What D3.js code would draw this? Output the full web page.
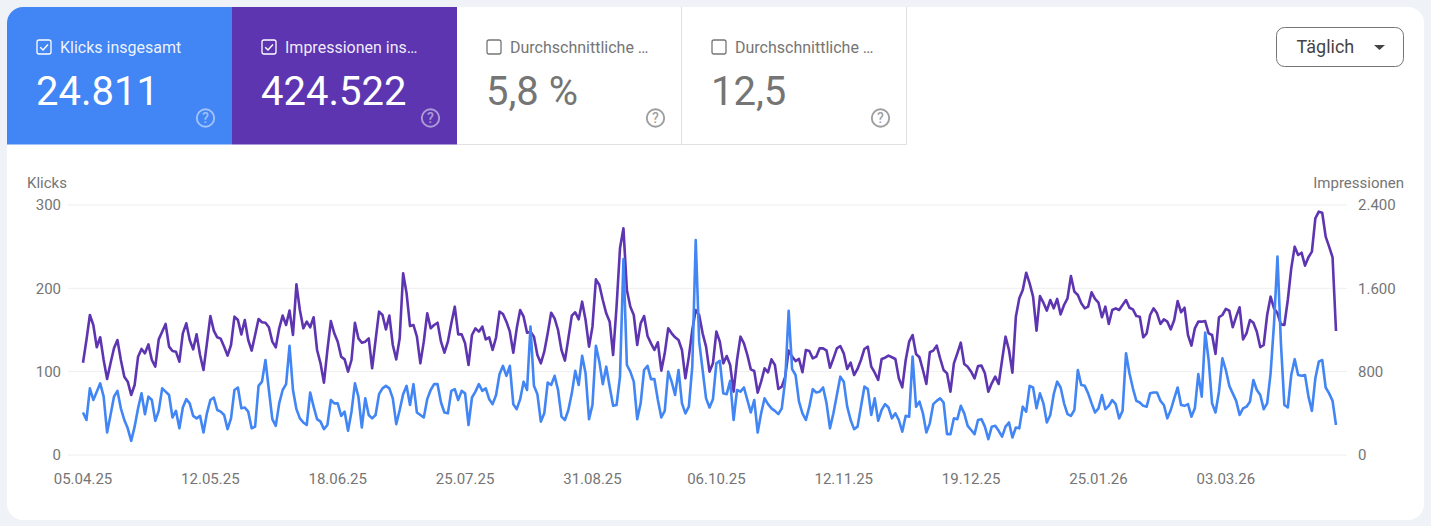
<!DOCTYPE html>
<html>
<head>
  <title>Leistung</title>
  <script src="https://cdn.jsdelivr.net/npm/d3@7/dist/d3.min.js"></script>
  <style type="text/css">
    html, body { margin: 0; padding: 0; background: #eff3f8; overflow: hidden; }
    svg { display: block; font-family: Roboto, sans-serif; }
    .domain { display: none; }
    .grid line { stroke: #eeeeee; stroke-width: 1; }
    .tick text { fill: #757575; font-size: 15px; font-family: Roboto, sans-serif; }
    .line { fill: none; stroke-width: 2.6; stroke-linejoin: round; }
  </style>
</head>
<body>
  <script type="text/javascript">
    var clicks = [
      51,42,80,66,76,86,70, 27,48,70,77,56,42,32, 17,34,56,74,49,70,66, 41,53,80,76,72,45,53,
      32,57,67,62,47,44,47, 27,50,66,69,54,52,48, 31,44,78,81,56,57,52, 32,34,83,88,114,78,43,
      35,62,78,85,131,78,55, 44,39,36,75,58,43,40, 31,36,66,62,62,47,52, 29,52,86,70,33,68,48,
      44,48,73,80,83,80, 68,37,54,73,83,60,85, 51,48,45,67,78,85,85, 63,51,50,77,79,66,77,
      74,36,69,76,85,77,80, 67,61,72,97,107,95,107, 61,55,67,88,78,154,83, 73,40,50,87,84,95,78,
      46,42,54,74,101,84,119, 98,43,60,131,112,85,106, 82,59,60,94,235,108,100, 88,43,62,102,107,91,91,
      66,45,53,100,
      88,72,102,62,50,58, 106,258,136,102,68,57,67, 110,113,74,73,89,42,78, 76,81,66,51,66,27,50,
      68,61,56,53,49,56,90, 173,103,96,64,50,42,58, 79,75,76,81,62,32,50, 72,94,88,58,42,31,34,
      58,82,79,48,68,41,54, 61,57,44,50,42,28,47, 46,118,58,64,50,27,38, 61,65,68,63,25,25,44,
      43,59,50,35,30,25,42, 43,34,19,34,35,29,22, 34,39,21,
      33,32,58,52,83,81,56, 74,62,39,48,73,88,81, 62,49,47,54,102,84,83, 74,62,51,56,72,55,59,
      66,61,44,53,122,98,80, 65,63,59,58,74,75,75, 65,60,44,54,68,81,60, 59,61,46,56,97,70,147,
      114,62,51,76,116,102,83, 74,65,48,56,58,64,90, 78,72,55,62,98,158,238, 134,60,57,96,115,96,95,
      96,70,53,92,112,114,81, 74,65,36
    ];

    var impressions = [
      886,1104,1344,1248,1034,1130,912, 730,880,1024,1104,912,752,704, 576,672,944,1018,976,1062,912,
      848,1110,1184,1258,1040,998,992, 896,1168,1264,1104,1014,1158,960, 816,1072,1334,1194,1130,1117,1040,
      954,1056,1328,1296,1158,1296,1104, 1002,1152,1306,1274,1270,1226,1088, 1034,1216,1338,1248,1386,1152,1638,
      1392,1216,1280,1226,1322,1008,880, 694,1008,1286,1168,1088,944,918, 800,912,1270,1120,1078,1088,1120,
      832,1104,1376,1344,1206,1338, 1056,918,1120,1744,1552,1238,1248, 1136,880,1088,1360,1216,1248,1270,
      1088,982,1088,1264,1424,1158,1158, 1072,864,1152,1216,1184,1232,1110, 1130,1008,1130,1376,1354,1280,1184,
      982,1216,1392,1328,1174,1184,1136, 960,880,992,1168,1366,1312,1200, 1008,906,1120,1338,1370,1302,1472,
      1296,1040,1232,1686,1632,1488,1360, 1280,960,1424,1984,2176,1584,1424, 1344,1056,1264,1334,1142,1072,1008,
      1082,810,976,1216,
      1168,1130,1104,1008,736,944, 1200,1392,1344,1168,1040,800,880, 1184,1088,880,950,864,608,912,
      1136,1072,960,822,806,598,704, 832,794,918,864,634,656,752, 1002,944,902,922,794,1008,998,
      928,944,1024,1024,1002,838,928, 1024,1046,976,826,886,768,826, 912,1018,1040,848,790,720,922,
      934,954,938,922,736,650,912, 1088,1152,970,938,816,682,986, 1002,1050,928,816,784,608,880,
      976,1078,874,848,800,736,854, 858,784,608,688,752,682,912, 1136,1008,790,
      1328,1504,1584,1750,1648,1520,1194, 1526,1462,1386,1488,1408,1498,1350, 1440,1504,1718,1568,1536,1456,1408,
      1424,1562,1498,1462,1322,1424,1258, 1392,1408,1392,1440,1488,1414,1398, 1334,1328,1130,1168,1344,1408,1360,
      1258,1302,1280,1206,1296,1478,1370, 1414,1152,1050,1216,1280,1280,1286, 1168,1152,970,1322,1344,1402,1386,
      1226,1328,1418,1110,1168,1296,1270, 1184,1034,1056,1344,1520,1408,1360, 1254,1248,1488,1792,2000,1920,1942,
      1818,1898,1952,2272,2336,2326,2096, 2000,1898,1190
    ];

    var startDate = "05.04.25";
    var dateTicks = ["05.04.25","12.05.25","18.06.25","25.07.25","31.08.25","06.10.25","12.11.25","19.12.25","25.01.26","03.03.26"];
    var clickTicks = [0,100,200,300];
    var impressionTicks = [0,800,1600,2400];

    var tileLabels = ["Klicks insgesamt","Impressionen ins\u2026","Durchschnittliche \u2026","Durchschnittliche \u2026"];
    var tileValues = ["24.811","424.522","5,8 %","12,5"];
    var tileColors = ["#4285f4","#5e35b1",null,null];

    var w = 1431, h = 526;
    var svg = d3.select("body").append("svg").attr("width", w).attr("height", h);

    var parseDate = d3.utcParse("%d.%m.%y");
    var formatDate = d3.utcFormat("%d.%m.%y");
    var german = d3.formatLocale({decimal: ",", thousands: ".", grouping: [3], currency: ["", " \u20ac"]});

    // card
    svg.append("rect").attr("x", 7).attr("y", 7).attr("width", 1417).attr("height", 513).attr("rx", 16).attr("fill", "#fff");

    // tiles, clipped to the card corner
    svg.append("clipPath").attr("id", "tile-clip")
      .append("rect").attr("x", 7).attr("y", 7).attr("width", 1417).attr("height", 513).attr("rx", 16);
    var tileW = 225;
    var tiles = svg.append("g").attr("clip-path", "url(#tile-clip)")
      .selectAll("g.tile").data(tileLabels).enter().append("g")
      .attr("class", "tile")
      .attr("transform", (d, i) => "translate(" + (7 + i * tileW) + ",7)");

    tiles.append("rect")
      .attr("width", tileW)
      .attr("height", 137.5)
      .attr("fill", (d, i) => tileColors[i] || "#fff");
    tiles.filter((d, i) => !tileColors[i]).append("path")
      .attr("d", "M" + (tileW - 0.5) + ",0V137.5H0")
      .attr("fill", "none").attr("stroke", "#e0e0e0");

    // checkbox
    tiles.append("rect")
      .attr("x", 30).attr("y", 33).attr("width", 14).attr("height", 14).attr("rx", 2)
      .attr("fill", "none")
      .attr("stroke", (d, i) => tileColors[i] ? "#fff" : "#757575")
      .attr("stroke-width", 1.3);
    tiles.filter((d, i) => tileColors[i]).append("path")
      .attr("d", "M33.2,40.2l2.8,2.8l5-5.4")
      .attr("fill", "none").attr("stroke", "#fff").attr("stroke-width", 1.4);

    tiles.append("text")
      .attr("x", 53).attr("y", 45.5)
      .attr("font-size", 16)
      .attr("fill", (d, i) => tileColors[i] ? "#fff" : "#757575")
      .attr("fill-opacity", (d, i) => tileColors[i] ? 0.92 : 1)
      .text(d => d);
    tiles.append("text")
      .attr("x", 29).attr("y", 98)
      .attr("font-size", 40)
      .attr("fill", (d, i) => tileColors[i] ? "#fff" : "#757575")
      .text((d, i) => tileValues[i]);

    // help icon
    tiles.append("circle")
      .attr("cx", 198.5).attr("cy", 111).attr("r", 8.7)
      .attr("fill", "none")
      .attr("stroke", (d, i) => tileColors[i] ? "#fff" : "#757575")
      .attr("stroke-opacity", (d, i) => tileColors[i] ? 0.5 : 0.7)
      .attr("stroke-width", 1.9);
    tiles.append("text")
      .attr("x", 198.5).attr("y", 116)
      .attr("text-anchor", "middle")
      .attr("font-size", 14).attr("font-weight", 500)
      .attr("fill", (d, i) => tileColors[i] ? "#fff" : "#757575")
      .attr("fill-opacity", (d, i) => tileColors[i] ? 0.5 : 0.7)
      .text("?");

    // Täglich button
    svg.append("rect")
      .attr("x", 1276.5).attr("y", 27.5).attr("width", 127).attr("height", 39).attr("rx", 8)
      .attr("fill", "#fff").attr("stroke", "#757575");
    svg.append("text").attr("x", 1296.5).attr("y", 52.5)
      .attr("font-size", 18).attr("fill", "#444").text("T\u00e4glich");
    svg.append("path").attr("d", "M1374,45h11l-5.5,5z").attr("fill", "#444");

    // scales
    var start = parseDate(startDate);
    var x = d3.scaleUtc().domain([start, d3.utcDay.offset(start, clicks.length - 1)]).range([83, 1336]);
    var yClicks = d3.scaleLinear().domain([0, 300]).range([455, 205]);
    var yImpr = d3.scaleLinear().domain([0, 2400]).range([455, 205]);

    // grid + axes
    svg.append("g").attr("class", "grid").selectAll("line").data(clickTicks).enter().append("line")
      .attr("x1", 68).attr("x2", 1347)
      .attr("y1", d => yClicks(d)).attr("y2", d => yClicks(d));

    svg.append("g").attr("transform", "translate(61,0)")
      .call(d3.axisLeft(yClicks).tickValues(clickTicks).tickSize(0).tickPadding(0));
    svg.append("g").attr("transform", "translate(1358,0)")
      .call(d3.axisRight(yImpr).tickValues(impressionTicks).tickSize(0).tickPadding(0).tickFormat(german.format(",d")));
    svg.append("g").attr("transform", "translate(-0.5,473)")
      .call(d3.axisBottom(x).tickValues(dateTicks.map(parseDate)).tickSize(0).tickPadding(0).tickFormat(formatDate));

    svg.append("text").attr("x", 27).attr("y", 188).attr("font-size", 15).attr("fill", "#757575").text("Klicks");
    svg.append("text").attr("x", 1404).attr("y", 188).attr("text-anchor", "end").attr("font-size", 15).attr("fill", "#757575").text("Impressionen");

    // lines
    var imprLine = d3.line().x((d, i) => x(d3.utcDay.offset(start, i))).y(d => yImpr(d));
    var clickLine = d3.line().x((d, i) => x(d3.utcDay.offset(start, i))).y(d => yClicks(d));

    svg.append("path").datum(impressions).attr("class", "line").attr("stroke", "#5e35b1").attr("d", imprLine);
    svg.append("path").datum(clicks).attr("class", "line").attr("stroke", "#4285f4").attr("d", clickLine);
  </script>
</body>
</html>
